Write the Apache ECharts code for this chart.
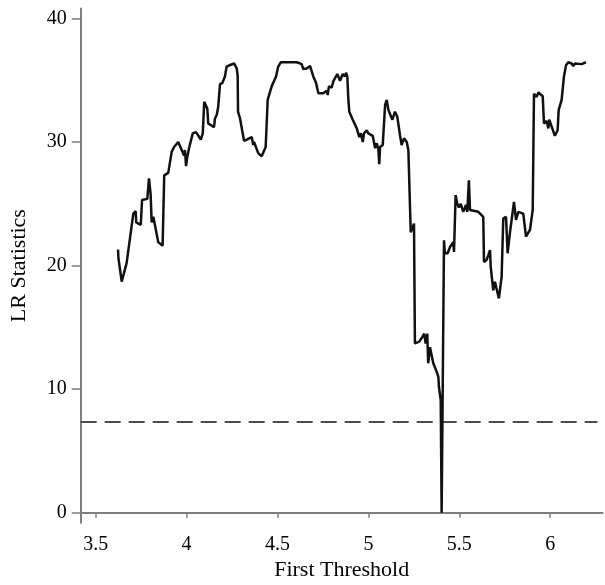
<!DOCTYPE html>
<html>
<head>
<meta charset="utf-8">
<script src="https://cdn.jsdelivr.net/npm/echarts@6/dist/echarts.min.js"></script>
<style>
html,body{margin:0;padding:0;background:#fff;}
#chart{width:605px;height:585px;}
</style>
</head>
<body>
<div id="chart"></div>
<script>
// Threshold values (x) and LR statistics (y)
const thresholds = [3.623,3.625,3.643,3.670,3.707,3.720,3.723,3.748,3.755,3.784,3.793,3.802,3.808,3.817,3.844,3.868,3.877,3.899,3.918,3.931,3.954,3.986,3.991,3.997,4.004,4.015,4.034,4.052,4.078,4.089,4.097,4.114,4.119,4.151,4.156,4.166,4.174,4.184,4.196,4.211,4.220,4.243,4.262,4.276,4.281,4.283,4.294,4.316,4.331,4.358,4.367,4.371,4.394,4.413,4.435,4.446,4.468,4.492,4.504,4.518,4.606,4.633,4.642,4.661,4.679,4.697,4.712,4.725,4.752,4.771,4.776,4.783,4.798,4.807,4.829,4.844,4.859,4.871,4.877,4.884,4.890,4.895,4.914,4.936,4.950,4.959,4.969,4.976,4.991,5.000,5.024,5.037,5.046,5.055,5.060,5.064,5.079,5.092,5.101,5.110,5.132,5.146,5.159,5.174,5.183,5.196,5.211,5.220,5.233,5.244,5.251,5.256,5.280,5.298,5.307,5.315,5.324,5.329,5.339,5.357,5.366,5.376,5.385,5.388,5.398,5.403,5.416,5.421,5.436,5.449,5.467,5.471,5.480,5.489,5.498,5.508,5.522,5.537,5.544,5.553,5.559,5.568,5.605,5.632,5.636,5.650,5.660,5.669,5.673,5.687,5.696,5.718,5.733,5.742,5.751,5.757,5.766,5.779,5.788,5.801,5.812,5.825,5.852,5.867,5.889,5.904,5.911,5.926,5.935,5.959,5.966,5.981,5.990,5.995,6.026,6.041,6.047,6.063,6.076,6.087,6.100,6.118,6.127,6.136,6.173,6.197];
const lrStats = [21.3,20.6,18.7,20.2,24.2,24.4,23.5,23.3,25.3,25.4,27.05,25.8,23.5,23.95,21.9,21.6,27.3,27.5,29.2,29.6,30.0,28.9,29.35,28.05,28.8,29.6,30.7,30.8,30.2,30.7,33.25,32.7,31.5,31.2,31.9,32.2,32.85,34.7,34.75,35.3,36.1,36.25,36.35,35.95,35.3,32.45,31.9,30.1,30.2,30.4,29.75,30.0,29.1,28.85,29.6,33.4,34.5,35.3,36.1,36.45,36.45,36.3,35.9,35.95,36.15,35.3,34.8,33.95,33.95,34.15,33.8,34.5,34.4,34.9,35.5,34.95,35.5,35.3,35.6,35.3,33.4,32.45,31.8,31.1,30.4,30.7,30.0,30.7,30.95,30.7,30.5,29.5,29.9,29.4,28.2,29.6,29.75,33.0,33.4,32.6,31.8,32.45,32.05,30.55,29.75,30.3,30.0,29.35,22.7,22.65,23.4,13.7,13.85,14.25,14.5,13.7,14.5,12.1,13.4,12.1,11.95,11.4,11.0,10.2,9.1,0.0,22.05,21.0,21.0,21.5,21.9,21.1,25.7,25.0,24.7,25.0,24.35,24.9,24.35,26.9,24.5,24.35,24.35,23.95,20.3,20.45,20.85,21.25,19.9,18.0,18.7,17.35,19.1,23.8,23.7,23.95,21.0,22.7,23.7,25.15,23.7,24.35,24.2,22.35,22.9,24.5,33.9,33.65,34.0,33.7,31.5,31.7,31.1,31.8,30.5,30.95,32.6,33.4,35.3,36.2,36.45,36.35,36.15,36.35,36.3,36.45];
// Critical value reference line
const criticalX = [3.4175, 6.26];
const criticalY = [7.35, 7.35];
// Tick labels
const xTicks = [3.5, 4, 4.5, 5, 5.5, 6];
const yTicks = [0, 10, 20, 30, 40];

const lineData = thresholds.map((x, i) => [x, lrStats[i]]);
const critData = criticalX.map((x, i) => [x, criticalY[i]]);

const axisGray = '#7f7f7f';
const font = 'Liberation Serif';

const chart = echarts.init(document.getElementById('chart'), null, {renderer: 'canvas'});
chart.setOption({
  animation: false,
  backgroundColor: '#fff',
  grid: {left: 80.7, right: 2.3, top: 8.5, bottom: 62.3, containLabel: false, outerBoundsMode: 'none'},
  xAxis: {
    type: 'value',
    min: 3.4175,
    max: 6.289,
    name: 'First Threshold',
    nameLocation: 'middle',
    nameGap: 30,
    nameTextStyle: {fontFamily: font, fontSize: 22, color: '#000'},
    axisLine: {show: true, lineStyle: {color: axisGray, width: 2}},
    axisTick: {show: true, length: 5, lineStyle: {color: axisGray, width: 1.5}, customValues: xTicks},
    axisLabel: {fontFamily: font, fontSize: 20, color: '#000', margin: 12, customValues: xTicks, formatter: v => String(v)},
    splitLine: {show: false}
  },
  yAxis: {
    type: 'value',
    min: -0.8,
    max: 40.8,
    name: 'LR Statistics',
    nameLocation: 'middle',
    nameGap: 50,
    nameRotate: 90,
    nameTextStyle: {fontFamily: font, fontSize: 22, color: '#000'},
    axisLine: {show: true, lineStyle: {color: axisGray, width: 2}},
    axisTick: {show: true, length: 9, lineStyle: {color: axisGray, width: 1.5}, customValues: yTicks},
    axisLabel: {fontFamily: font, fontSize: 20, color: '#000', margin: 14, customValues: yTicks, formatter: v => String(v)},
    splitLine: {show: false}
  },
  series: [
    {
      type: 'line',
      data: critData,
      showSymbol: false,
      symbol: 'none',
      lineStyle: {color: '#4d4d4d', width: 2, type: [16, 8]},
      z: 1
    },
    {
      type: 'line',
      data: lineData,
      showSymbol: false,
      symbol: 'none',
      lineStyle: {color: '#111', width: 2.5},
      z: 2
    }
  ]
});
</script>
</body>
</html>
